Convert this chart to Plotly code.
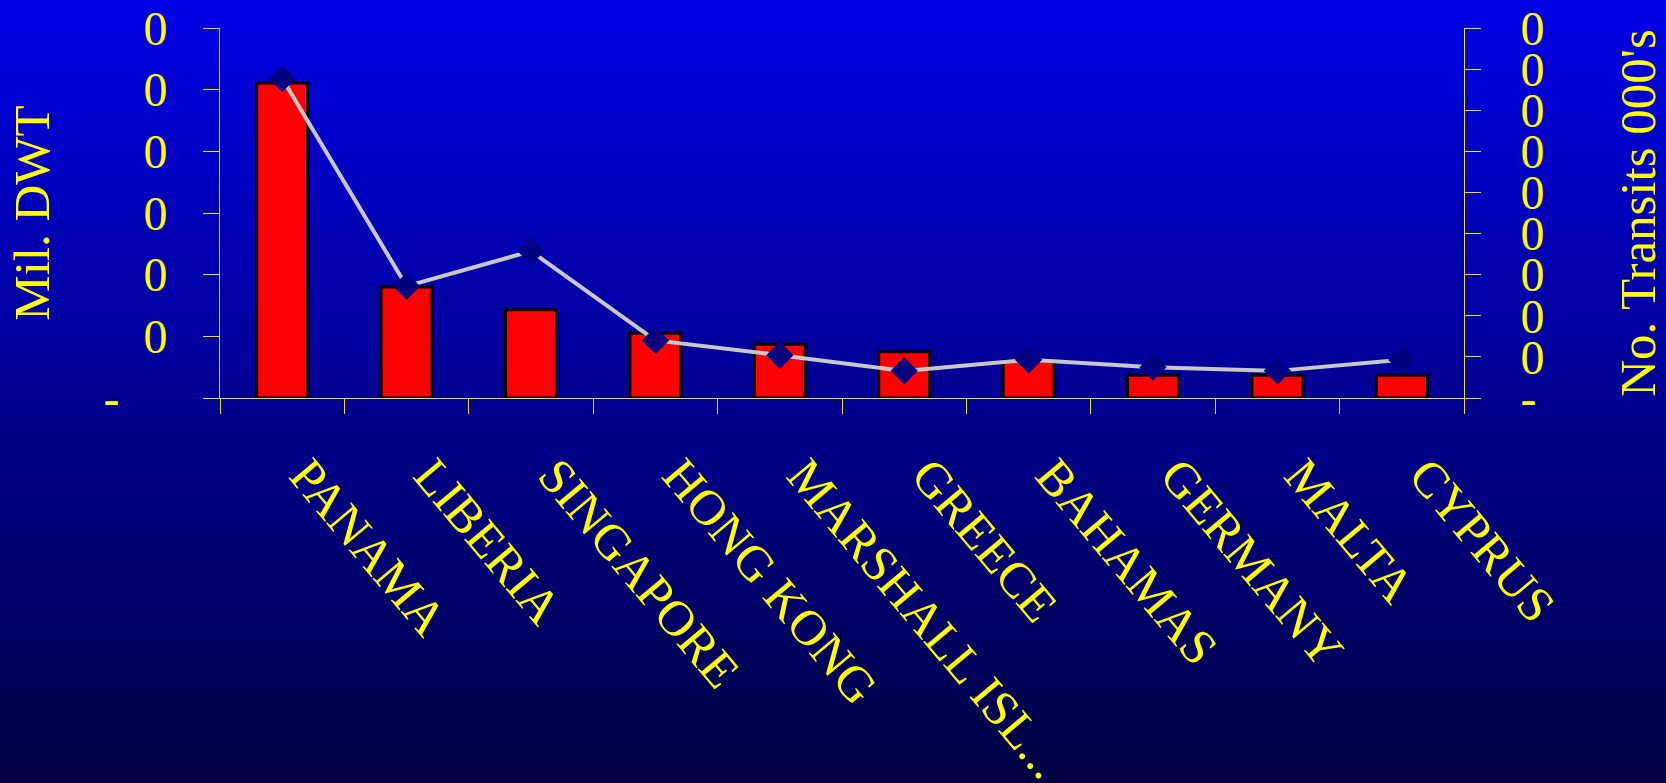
import base64
import struct
import zlib

import plotly.graph_objects as go

# ---------------- data ----------------
categories = ["PANAMA", "LIBERIA", "SINGAPORE", "HONG KONG", "MARSHALL ISL...",
              "GREECE", "BAHAMAS", "GERMANY", "MALTA", "CYPRUS"]
dwt_values = [51.1, 18.0, 14.3, 10.5, 8.7, 7.5, 6.1, 3.7, 3.7, 3.7]          # left axis (Mil. DWT)
transit_values = [7.77, 2.72, 3.57, 1.40, 1.04, 0.66, 0.93, 0.75, 0.66, 0.93]  # right axis (No. Transits 000's)

left_tickvals = [0, 10, 20, 30, 40, 50, 60]
left_ticktext = ["-\u00a0\u00a0\u00a0\u00a0", "0", "0", "0", "0", "0", "0"]
right_tickvals = [0, 1, 2, 3, 4, 5, 6, 7, 8, 9]
right_ticktext = ["-", "0", "0", "0", "0", "0", "0", "0", "0", "0"]

# ---------------- style ----------------
W, H = 1666, 783
ML, MR, MT, MB = 220, 202, 28, 385
PW, PH = W - ML - MR, H - MT - MB
YELLOW = "#ffff00"
AXIS_COL = "#e6e600"
FONT = "Liberation Serif"
LABEL_PAD = "\u00a0\u00a0\u00a0"   # shifts rotated category labels along their baseline


def gradient_png(height, top, bottom):
    rows = bytearray()
    for i in range(height):
        t = i / (height - 1)
        rows += b"\x00" + bytes(round(top[k] + (bottom[k] - top[k]) * t) for k in range(3))

    def chunk(tag, data):
        return (struct.pack(">I", len(data)) + tag + data
                + struct.pack(">I", zlib.crc32(tag + data) & 0xFFFFFFFF))

    ihdr = struct.pack(">IIBBBBB", 1, height, 8, 2, 0, 0, 0)
    png = (b"\x89PNG\r\n\x1a\n" + chunk(b"IHDR", ihdr)
           + chunk(b"IDAT", zlib.compress(bytes(rows))) + chunk(b"IEND", b""))
    return "data:image/png;base64," + base64.b64encode(png).decode()


bg = gradient_png(H, (0, 0, 230), (0, 0, 66))

fig = go.Figure()
fig.add_trace(go.Bar(
    x=categories, y=dwt_values, width=0.41,
    marker=dict(color="#ff0000", line=dict(color="#000000", width=3)),
    xaxis="x", yaxis="y", hoverinfo="skip", showlegend=False,
))
fig.add_trace(go.Scatter(
    x=categories, y=transit_values, mode="lines+markers",
    line=dict(color="#c8c8c8", width=4),
    marker=dict(symbol="diamond", size=21, color="#000080", line=dict(width=0)),
    xaxis="x", yaxis="y2", hoverinfo="skip", showlegend=False,
))

n = len(categories)
boundaries = [i - 0.5 for i in range(n + 1)]

fig.update_layout(
    width=W, height=H,
    margin=dict(l=ML, r=MR, t=MT, b=MB, autoexpand=False),
    paper_bgcolor="#000050", plot_bgcolor="rgba(0,0,0,0)",
    font=dict(family=FONT, color=YELLOW),
    images=[dict(source=bg, xref="paper", yref="paper",
                 x=-ML / PW, y=1 + MT / PH, sizex=W / PW, sizey=H / PH,
                 xanchor="left", yanchor="top", sizing="stretch", layer="below")],
    xaxis=dict(
        type="category", categoryorder="array", categoryarray=categories,
        tickmode="array", tickvals=categories,
        ticktext=[LABEL_PAD + c for c in categories],
        range=[-0.5, n - 0.5], tickson="boundaries",
        ticks="outside", ticklen=15, tickwidth=1, tickcolor=AXIS_COL,
        showline=True, linecolor=AXIS_COL, linewidth=1,
        showgrid=False, zeroline=False, tickangle=50,
        tickfont=dict(family=FONT, size=50, color=YELLOW),
        ticklabelstandoff=-2, automargin=False,
    ),
    xaxis2=dict(
        overlaying="x", anchor="y", side="bottom", range=[-0.5, n - 0.5],
        tickmode="array", tickvals=boundaries, ticks="inside", ticklen=15,
        tickwidth=1, tickcolor=AXIS_COL, showticklabels=False,
        showline=False, showgrid=False, zeroline=False,
    ),
    yaxis=dict(
        range=[0, 60], tickmode="array", tickvals=left_tickvals, ticktext=left_ticktext,
        ticks="outside", ticklen=16, tickwidth=1, tickcolor=AXIS_COL,
        showline=True, linecolor=AXIS_COL, linewidth=1,
        showgrid=False, zeroline=False,
        tickfont=dict(family=FONT, size=48, color=YELLOW),
        ticklabelstandoff=26, automargin=False,
        title=dict(text="Mil. DWT", font=dict(family=FONT, size=51, color=YELLOW), standoff=37),
    ),
    yaxis3=dict(
        overlaying="y", anchor="x", side="left", range=[0, 60],
        tickmode="array", tickvals=left_tickvals, ticks="inside", ticklen=15,
        tickwidth=1, tickcolor=AXIS_COL, showticklabels=False,
        showline=False, showgrid=False, zeroline=False,
    ),
    yaxis2=dict(
        overlaying="y", anchor="x", side="right", range=[0, 9],
        tickmode="array", tickvals=right_tickvals, ticktext=right_ticktext,
        ticks="outside", ticklen=16, tickwidth=1, tickcolor=AXIS_COL,
        showline=True, linecolor=AXIS_COL, linewidth=1,
        showgrid=False, zeroline=False,
        tickfont=dict(family=FONT, size=48, color=YELLOW),
        ticklabelstandoff=30, automargin=False,
        title=dict(text="No. Transits 000's", font=dict(family=FONT, size=51, color=YELLOW), standoff=84),
    ),
    yaxis4=dict(
        overlaying="y", anchor="x", side="right", range=[0, 9],
        tickmode="array", tickvals=right_tickvals, ticks="inside", ticklen=15,
        tickwidth=1, tickcolor=AXIS_COL, showticklabels=False,
        showline=False, showgrid=False, zeroline=False,
    ),
)

fig.write_html(
    "out.html",
    config={"displayModeBar": False, "staticPlot": True},
    post_script="document.body.style.margin='0';document.body.style.overflow='hidden';",
)
